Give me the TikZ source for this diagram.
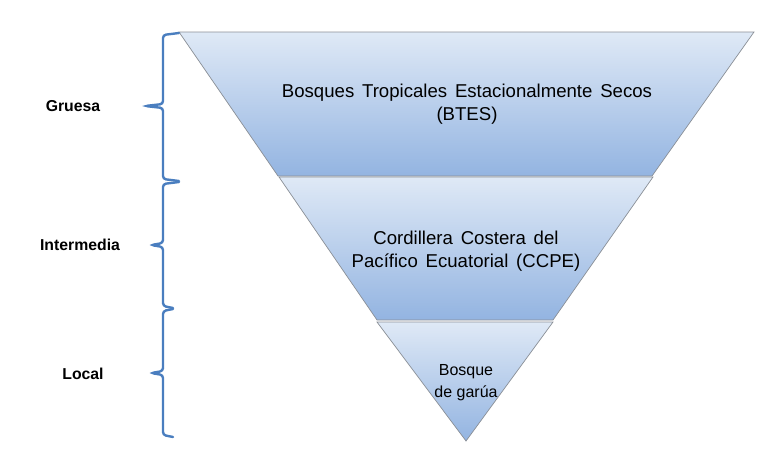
\documentclass[tikz,border=0pt]{standalone}
\usepackage{fontspec}
\setmainfont{Liberation Sans}
\newcommand{\widesp}{\spaceskip=0.42em\relax}
\begin{document}
\begin{tikzpicture}[x=1pt,y=-1pt,
  layer/.style={top color=laytop,bottom color=laybot,draw=edgegray,line width=0.7pt},
  brace/.style={draw=bracecol,line width=2.4pt,rounded corners=3pt,line cap=round},
  lbl/.style={font=\fontsize{15.8}{18}\selectfont\bfseries,anchor=center},
  maintxt/.style={font=\fontsize{18.6}{23}\selectfont,align=center,anchor=center},
  smalltxt/.style={font=\fontsize{16}{22}\selectfont,align=center,anchor=center}]
\definecolor{laytop}{HTML}{DFE9F6}
\definecolor{laybot}{HTML}{93B4E1}
\definecolor{edgegray}{HTML}{8A8F96}
\definecolor{bracecol}{HTML}{4A7EBF}
\useasboundingbox (0,0) rectangle (778,451);
% layers
\path[layer] (179,32) -- (754,32) -- (652,176) -- (278,176) -- cycle;
\path[layer] (279,177) -- (653,177) -- (553,320) -- (377,320) -- cycle;
\path[layer] (377,322) -- (553,322) -- (466,441) -- cycle;
% texts
\node[maintxt] (btes) at (467,104) {\widesp Bosques Tropicales Estacionalmente Secos\\\widesp(BTES)};
\node[maintxt] (ccpe) at (466,251) {\widesp Cordillera Costera del\\\widesp Pacífico Ecuatorial (CCPE)};
\node[smalltxt] (garua) at (466,383) {Bosque\\de garúa};
% braces
\draw[brace] (179,33) -- (163,35) -- (163,104) -- (145,106) -- (163,108) -- (163,179) -- (179,181);
\draw[brace] (179,182) -- (163,184) -- (163,243) -- (151,245) -- (163,247) -- (163,306) -- (173,308);
\draw[brace] (173,309) -- (163,311) -- (163,371) -- (151,373) -- (163,375) -- (163,435) -- (173,437);
% labels
\node[lbl] (gruesa) at (73,106) {Gruesa};
\node[lbl] (inter) at (80,245) {Intermedia};
\node[lbl] (local) at (83,374) {Local};
\end{tikzpicture}
\end{document}
